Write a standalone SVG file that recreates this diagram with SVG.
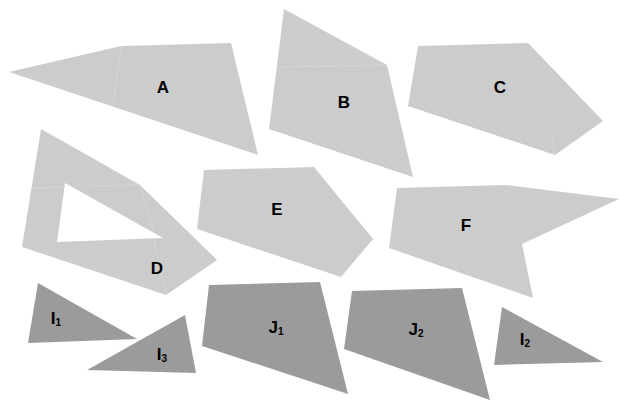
<svg xmlns="http://www.w3.org/2000/svg" width="621" height="401" viewBox="0 0 621 401">
<style>
.l{fill:#cccccc}
.d{fill:#9a9b9a}
.s{stroke:#dedede;stroke-width:0.6;fill:none}
text{font-family:"Liberation Sans",Arial,sans-serif;font-weight:bold;font-size:17px;fill:#000;text-anchor:middle}
.sub{font-size:10px}
</style>
<rect width="621" height="401" fill="#fff"/>
<g id="A">
<polygon class="l" points="9,72 121,46 231,43 258,155"/>
<line class="s" x1="121" y1="46" x2="113" y2="105"/>
<text x="163" y="93">A</text>
</g>
<g id="B">
<polygon class="l" points="284,9 387,65 413,177 269,129"/>
<line class="s" x1="277" y1="67" x2="387" y2="65"/>
<text x="344" y="108">B</text>
</g>
<g id="C">
<polygon class="l" points="418,46 528,43 603,121 555,155 408,106"/>
<line class="s" x1="555" y1="155" x2="551" y2="133"/>
<text x="500" y="93">C</text>
</g>
<g id="D">
<path class="l" fill-rule="evenodd" d="M41,129 L140,185 L217,260 L166,295 L22,247 Z M65,183 L163,238 L57,242 Z"/>
<line class="s" x1="31" y1="188" x2="65" y2="187"/>
<line class="s" x1="90" y1="186" x2="140" y2="185"/>
<line class="s" x1="140" y1="185" x2="154" y2="233"/>
<line class="s" x1="154" y1="240" x2="166" y2="295"/>
<text x="157" y="274">D</text>
</g>
<g id="E">
<polygon class="l" points="204,170 314,167 373,239 341,277 197,229"/>
<text x="277" y="215">E</text>
</g>
<g id="F">
<polygon class="l" points="397,188 505,185 619,199 522,244 533,298 389,248"/>
<text x="466" y="231">F</text>
</g>
<g id="I1">
<polygon class="d" points="38,283 137,339 28,343"/>
<text x="56" y="324">I<tspan class="sub" dy="2">1</tspan></text>
</g>
<g id="I3">
<polygon class="d" points="185,315 196,373 87,370"/>
<text x="162" y="360">I<tspan class="sub" dy="2">3</tspan></text>
</g>
<g id="J1">
<polygon class="d" points="209,285 320,282 348,394 202,346"/>
<text x="276" y="333">J<tspan class="sub" dy="2">1</tspan></text>
</g>
<g id="J2">
<polygon class="d" points="352,291 462,288 490,400 344,349"/>
<text x="416" y="335">J<tspan class="sub" dy="2">2</tspan></text>
</g>
<g id="I2">
<polygon class="d" points="502,307 603,362 494,365"/>
<text x="525" y="345">I<tspan class="sub" dy="2">2</tspan></text>
</g>
<g id="connectors"></g>
</svg>
